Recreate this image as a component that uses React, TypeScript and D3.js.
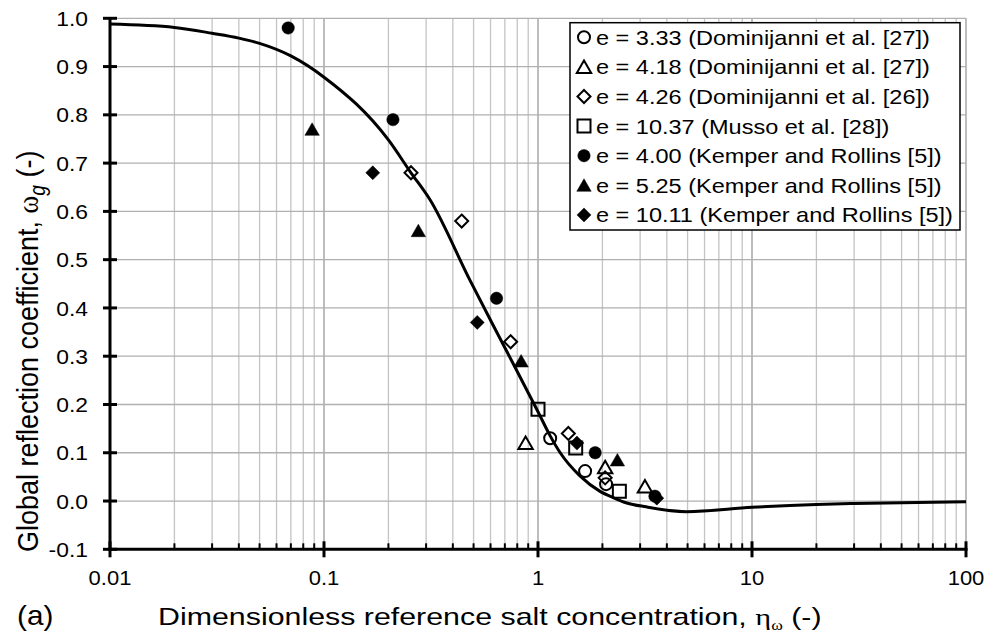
import React from 'react';
import * as d3 from 'd3';

// axis ticks
const xDecades = [0.01, 0.1, 1, 10, 100];
const xTickLabels = ['0.01', '0.1', '1', '10', '100'];
const yTicks = [-0.1, 0, 0.1, 0.2, 0.3, 0.4, 0.5, 0.6, 0.7, 0.8, 0.9, 1.0];
const yTickLabels = ['-0.1', '0.0', '0.1', '0.2', '0.3', '0.4', '0.5', '0.6', '0.7', '0.8', '0.9', '1.0'];

// model curve
const curveEta = [0.01, 0.02, 0.03, 0.04, 0.05, 0.07, 0.1, 0.2, 0.255, 0.313, 0.48, 0.677, 1.0, 1.14, 1.27, 1.57, 1.95, 2.25, 2.6, 3.2, 4.95, 10, 20, 30, 100];
const curveOmega = [0.988, 0.981, 0.969, 0.959, 0.948, 0.922, 0.878, 0.748, 0.68, 0.624, 0.458, 0.33, 0.185, 0.135, 0.1, 0.052, 0.02, 0.007, -0.004, -0.012, -0.022, -0.013, -0.007, -0.005, -0.0015];

// measured points
const dom27aEta = [1.14, 1.66, 2.08];
const dom27aOmega = [0.13, 0.062, 0.035];
const dom27bEta = [0.875, 2.06, 3.16];
const dom27bOmega = [0.12, 0.07, 0.03];
const dom26Eta = [0.255, 0.44, 0.745, 1.386, 2.06];
const dom26Omega = [0.68, 0.58, 0.33, 0.14, 0.048];
const mussoEta = [1.0, 1.5, 2.4];
const mussoOmega = [0.19, 0.11, 0.02];
const kemper400Eta = [0.068, 0.21, 0.64, 1.85, 3.52];
const kemper400Omega = [0.98, 0.79, 0.42, 0.1, 0.01];
const kemper525Eta = [0.088, 0.276, 0.834, 2.35];
const kemper525Omega = [0.77, 0.56, 0.29, 0.085];
const kemper1011Eta = [0.169, 0.52, 1.52, 3.59];
const kemper1011Omega = [0.68, 0.37, 0.12, 0.006];

type Shape = 'circle' | 'triangle' | 'diamond' | 'square';

const series: { label: string; shape: Shape; filled: boolean; eta: number[]; omega: number[] }[] = [
  { label: 'e = 3.33 (Dominijanni et al. [27])', shape: 'circle', filled: false, eta: dom27aEta, omega: dom27aOmega },
  { label: 'e = 4.18 (Dominijanni et al. [27])', shape: 'triangle', filled: false, eta: dom27bEta, omega: dom27bOmega },
  { label: 'e = 4.26 (Dominijanni et al. [26])', shape: 'diamond', filled: false, eta: dom26Eta, omega: dom26Omega },
  { label: 'e = 10.37 (Musso et al. [28])', shape: 'square', filled: false, eta: mussoEta, omega: mussoOmega },
  { label: 'e = 4.00 (Kemper and Rollins [5])', shape: 'circle', filled: true, eta: kemper400Eta, omega: kemper400Omega },
  { label: 'e = 5.25 (Kemper and Rollins [5])', shape: 'triangle', filled: true, eta: kemper525Eta, omega: kemper525Omega },
  { label: 'e = 10.11 (Kemper and Rollins [5])', shape: 'diamond', filled: true, eta: kemper1011Eta, omega: kemper1011Omega },
];

const W = 991;
const H = 637;
const FONT = 'Liberation Sans, Arial, sans-serif';

const x = d3.scaleLog().domain([0.01, 100]).range([110, 966]);
const y = d3.scaleLinear().domain([-0.1, 1.0]).range([549.3, 18.3]);

function markerPath(shape: Shape, filled: boolean): string {
  const r = filled ? 6.2 : 6;
  switch (shape) {
    case 'circle':
      return `M${-r},0A${r},${r} 0 1,0 ${r},0A${r},${r} 0 1,0 ${-r},0Z`;
    case 'triangle':
      return 'M0,-6.5L7.2,6L-7.2,6Z';
    case 'diamond':
      return filled ? 'M0,-7L7,0L0,7L-7,0Z' : 'M0,-6.5L6.5,0L0,6.5L-6.5,0Z';
    case 'square':
      return 'M-6.5,-6.5H6.5V6.5H-6.5Z';
  }
}

function Marker({ shape, filled, cx, cy }: { shape: Shape; filled: boolean; cx: number; cy: number }) {
  return (
    <path
      d={markerPath(shape, filled)}
      transform={`translate(${cx},${cy})`}
      fill={filled ? '#000' : 'none'}
      stroke="#000"
      strokeWidth={filled ? 0.5 : 2}
    />
  );
}

export default function App() {
  // all 1..9 x decade grid positions
  const gridX: number[] = [];
  for (let d = 0; d < 4; d++) {
    for (let k = 1; k <= 9; k++) gridX.push(xDecades[d] * k);
  }
  gridX.push(100);
  const isDecade = (v: number) => xDecades.some((t) => Math.abs(t - v) / t < 1e-9);

  const curve = d3
    .line<number>()
    .x((_, i) => x(curveEta[i]))
    .y((_, i) => y(curveOmega[i]))
    .curve(d3.curveMonotoneX);

  const top = y(1.0);
  const bottom = y(-0.1);

  return (
    <div style={{ position: 'absolute', left: 0, top: 0 }}>
      <svg width={W} height={H} style={{ display: 'block', background: '#fff' }} fontFamily={FONT}>
        <rect width={W} height={H} fill="#fff" />

        {/* grid */}
        {gridX.map((v, i) => (
          <line
            key={'gx' + i}
            x1={x(v)}
            x2={x(v)}
            y1={top}
            y2={bottom}
            stroke={isDecade(v) ? '#9a9a9a' : '#c4c4c4'}
            strokeWidth={1.3}
          />
        ))}
        {yTicks.slice(1).map((v, i) => (
          <line key={'gy' + i} x1={x(0.01)} x2={x(100)} y1={y(v)} y2={y(v)} stroke="#b0b0b0" strokeWidth={1.3} />
        ))}

        {/* axes */}
        <line x1={x(0.01)} x2={x(0.01)} y1={top} y2={bottom + 1.5} stroke="#000" strokeWidth={3} />
        <line x1={x(0.01) - 1.5} x2={x(100) + 1.5} y1={bottom} y2={bottom} stroke="#000" strokeWidth={3} />
        {yTicks.map((v, i) => (
          <line key={'yt' + i} x1={x(0.01) - 7} x2={x(0.01) + 7} y1={y(v)} y2={y(v)} stroke="#000" strokeWidth={3} />
        ))}
        {gridX.map((v, i) =>
          isDecade(v) ? (
            <line key={'xt' + i} x1={x(v)} x2={x(v)} y1={bottom - 8} y2={bottom + 8} stroke="#000" strokeWidth={3} />
          ) : (
            <line key={'xt' + i} x1={x(v)} x2={x(v)} y1={bottom - 6} y2={bottom} stroke="#000" strokeWidth={2} />
          )
        )}

        {/* tick labels */}
        {yTicks.map((v, i) => (
          <g key={'yl' + i} transform={`translate(88,${y(v)}) scale(1.09,1)`}>
            <text textAnchor="end" dy="0.36em" fontSize={21} fill="#000">
              {yTickLabels[i]}
            </text>
          </g>
        ))}
        {xDecades.map((v, i) => (
          <g key={'xl' + i} transform={`translate(${x(v)},585) scale(1.1,1)`}>
            <text textAnchor="middle" fontSize={20} fill="#000">
              {xTickLabels[i]}
            </text>
          </g>
        ))}

        {/* axis titles */}
        <g transform="translate(38,552) scale(1.12,1) rotate(-90)">
          <text fontSize={27} fill="#000">
            Global reflection coefficient,{' '}
            <tspan fontFamily="Liberation Serif, serif">ω</tspan>
            <tspan dy={6} fontStyle="italic" fontSize={19}>g</tspan>
            <tspan dy={-6}> (-)</tspan>
          </text>
        </g>
        <g transform="translate(158,625) scale(1.265,1)">
          <text fontSize={24} fill="#000">
            Dimensionless reference salt concentration,{' '}
            <tspan fontFamily="Liberation Serif, serif">η</tspan>
            <tspan dy={5} fontFamily="Liberation Serif, serif" fontSize={14}>ω</tspan>
            <tspan dy={-5}> (-)</tspan>
          </text>
        </g>
        <g transform="translate(17,625) scale(1.1,1)">
          <text fontSize={27} fill="#000">(a)</text>
        </g>

        {/* model curve */}
        <path d={curve(curveEta) || ''} fill="none" stroke="#000" strokeWidth={3} />

        {/* data */}
        {series.map((s, si) =>
          s.eta.map((e, i) => (
            <Marker key={`m${si}-${i}`} shape={s.shape} filled={s.filled} cx={x(e)} cy={y(s.omega[i])} />
          ))
        )}

        {/* legend */}
        <rect x={570} y={22.7} width={390} height={207.3} fill="#fff" stroke="#000" strokeWidth={1.5} />
        {series.map((s, i) => {
          const ly = 37.3 + i * 29.6;
          return (
            <g key={'lg' + i}>
              <Marker shape={s.shape} filled={s.filled} cx={584} cy={ly} />
              <g transform={`translate(596,${ly}) scale(1.12,1)`}>
                <text dy="0.36em" fontSize={21} fill="#000">
                  {s.label}
                </text>
              </g>
            </g>
          );
        })}
      </svg>
    </div>
  );
}
